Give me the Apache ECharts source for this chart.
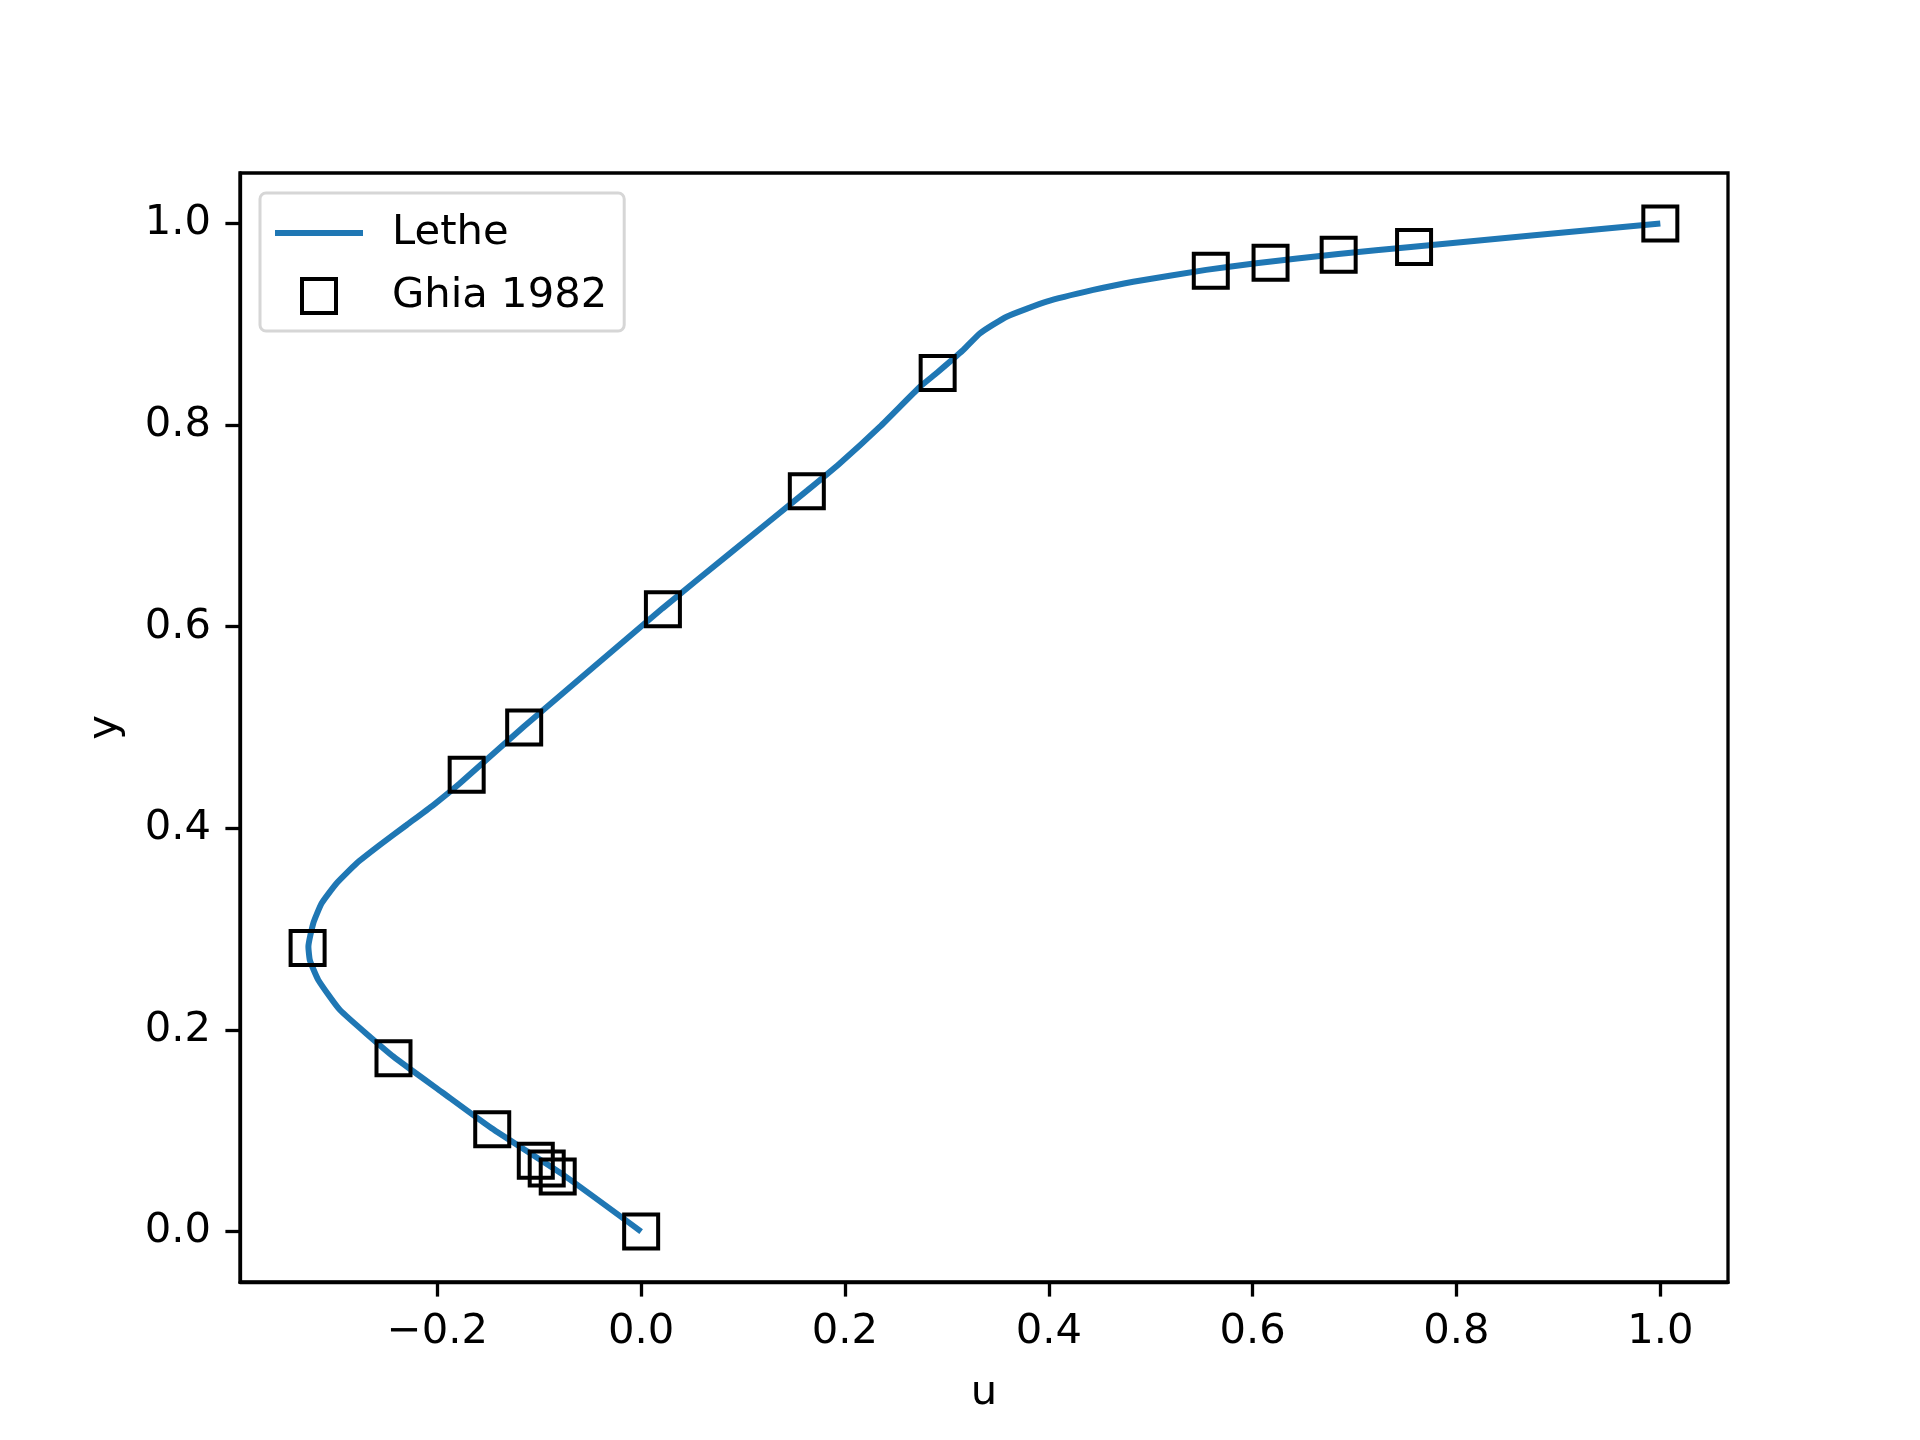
<!DOCTYPE html>
<html>
<head>
<meta charset="utf-8">
<script src="https://cdn.jsdelivr.net/npm/echarts@6/dist/echarts.min.js"></script>
<style>html,body{margin:0;padding:0;background:#fff}#c{width:1920px;height:1440px}</style>
</head>
<body>
<div id="c"></div>
<script>
// Lethe simulation profile (u, y)
const letheU = [0, -0.076, -0.1467, -0.195, -0.243, -0.2955, -0.3168, -0.325, -0.3265, -0.3217, -0.3135, -0.2988, -0.2791, -0.2563, -0.2301, -0.2039, -0.1778, -0.1153, 0.021, 0.0877, 0.1628, 0.1951, 0.2343, 0.2736, 0.2903, 0.316, 0.3324, 0.3586, 0.3978, 0.4436, 0.4828, 0.5543, 0.6034, 0.684, 0.7578, 1.0];
const letheY = [0, 0.056, 0.1025, 0.138, 0.1735, 0.2198, 0.2496, 0.269, 0.2826, 0.3058, 0.3256, 0.3455, 0.3653, 0.3835, 0.4033, 0.4231, 0.4447, 0.5008, 0.6182, 0.6732, 0.7349, 0.7621, 0.7984, 0.838, 0.8519, 0.8744, 0.891, 0.9075, 0.9224, 0.934, 0.9422, 0.9539, 0.9605, 0.9696, 0.9769, 1.0];
// Ghia 1982 reference points
const ghiaU = [1.0, 0.75837, 0.68439, 0.61756, 0.55892, 0.29093, 0.16256, 0.02135, -0.11477, -0.17119, -0.32726, -0.24299, -0.14612, -0.10338, -0.09266, -0.08186, 0.0];
const ghiaY = [1.0, 0.9766, 0.9688, 0.9609, 0.9531, 0.8516, 0.7344, 0.6172, 0.5, 0.4531, 0.2813, 0.1719, 0.1016, 0.0703, 0.0625, 0.0547, 0.0];
// tick values
const xTicks = [-0.2, 0.0, 0.2, 0.4, 0.6, 0.8, 1.0];
const yTicks = [0.0, 0.2, 0.4, 0.6, 0.8, 1.0];

const FONT = 'DejaVu Sans';
const FS = 41.7;
const LW = 3.3;
const BLUE = '#1f77b4';

const chart = echarts.init(document.getElementById('c'), null, {renderer: 'canvas'});
const fmt = v => (Math.abs(v) < 1e-9 ? 0 : v).toFixed(1).replace('-', '\u2212');

chart.setOption({
  animation: false,
  backgroundColor: '#ffffff',
  grid: {left: 240, top: 173, right: 192, bottom: 158, show: true, borderColor: '#000', borderWidth: LW, backgroundColor: 'transparent'},
  legend: {
    orient: 'vertical',
    left: 260, top: 193,
    padding: [19, 17, 14, 15],
    itemGap: 21,
    itemWidth: 88,
    itemHeight: 34,
    backgroundColor: '#fff',
    borderColor: '#d6d6d6',
    borderWidth: 3,
    borderRadius: 6,
    textStyle: {fontFamily: FONT, fontSize: FS, color: '#000', lineHeight: 42, padding: [0, 0, 0, 24]},
    data: [
      {name: 'Lethe', icon: 'path://M0,0H88V6H0Z', itemStyle: {color: BLUE, borderWidth: 0}},
      {name: 'Ghia 1982', icon: 'path://M0,0H10V10H0Z', itemStyle: {color: 'rgba(0,0,0,0)', borderColor: '#000', borderWidth: 4}}
    ]
  },
  xAxis: {
    type: 'value', min: -0.3936, max: 1.0664,
    name: 'u', nameLocation: 'middle', nameGap: 90,
    nameTextStyle: {fontFamily: FONT, fontSize: FS, color: '#000', lineHeight: 42},
    axisLine: {show: true, onZero: false, lineStyle: {color: '#000', width: LW}},
    axisTick: {show: true, length: 14.6, lineStyle: {color: '#000', width: LW}, customValues: xTicks},
    axisLabel: {fontFamily: FONT, fontSize: FS, color: '#000', margin: 29, customValues: xTicks, formatter: fmt},
    splitLine: {show: false}
  },
  yAxis: {
    type: 'value', min: -0.05, max: 1.05,
    name: 'y', nameLocation: 'middle', nameGap: 114, nameRotate: 90,
    nameTextStyle: {fontFamily: FONT, fontSize: FS, color: '#000', lineHeight: 42},
    axisLine: {show: true, onZero: false, lineStyle: {color: '#000', width: LW}},
    axisTick: {show: true, length: 14.6, lineStyle: {color: '#000', width: LW}, customValues: yTicks},
    axisLabel: {fontFamily: FONT, fontSize: FS, color: '#000', margin: 29, customValues: yTicks, formatter: fmt},
    splitLine: {show: false}
  },
  series: [
    {
      name: 'Lethe', type: 'line',
      data: letheU.map((u, i) => [u, letheY[i]]),
      symbol: 'none', smooth: 0.15,
      lineStyle: {color: BLUE, width: 6},
      itemStyle: {color: BLUE},
      z: 2
    },
    {
      name: 'Ghia 1982', type: 'scatter',
      data: ghiaU.map((u, i) => [u, ghiaY[i]]),
      symbol: 'rect', symbolSize: 34,
      itemStyle: {color: 'rgba(0,0,0,0)', borderColor: '#000', borderWidth: 4, opacity: 1},
      z: 3
    }
  ]
});
</script>
</body>
</html>
